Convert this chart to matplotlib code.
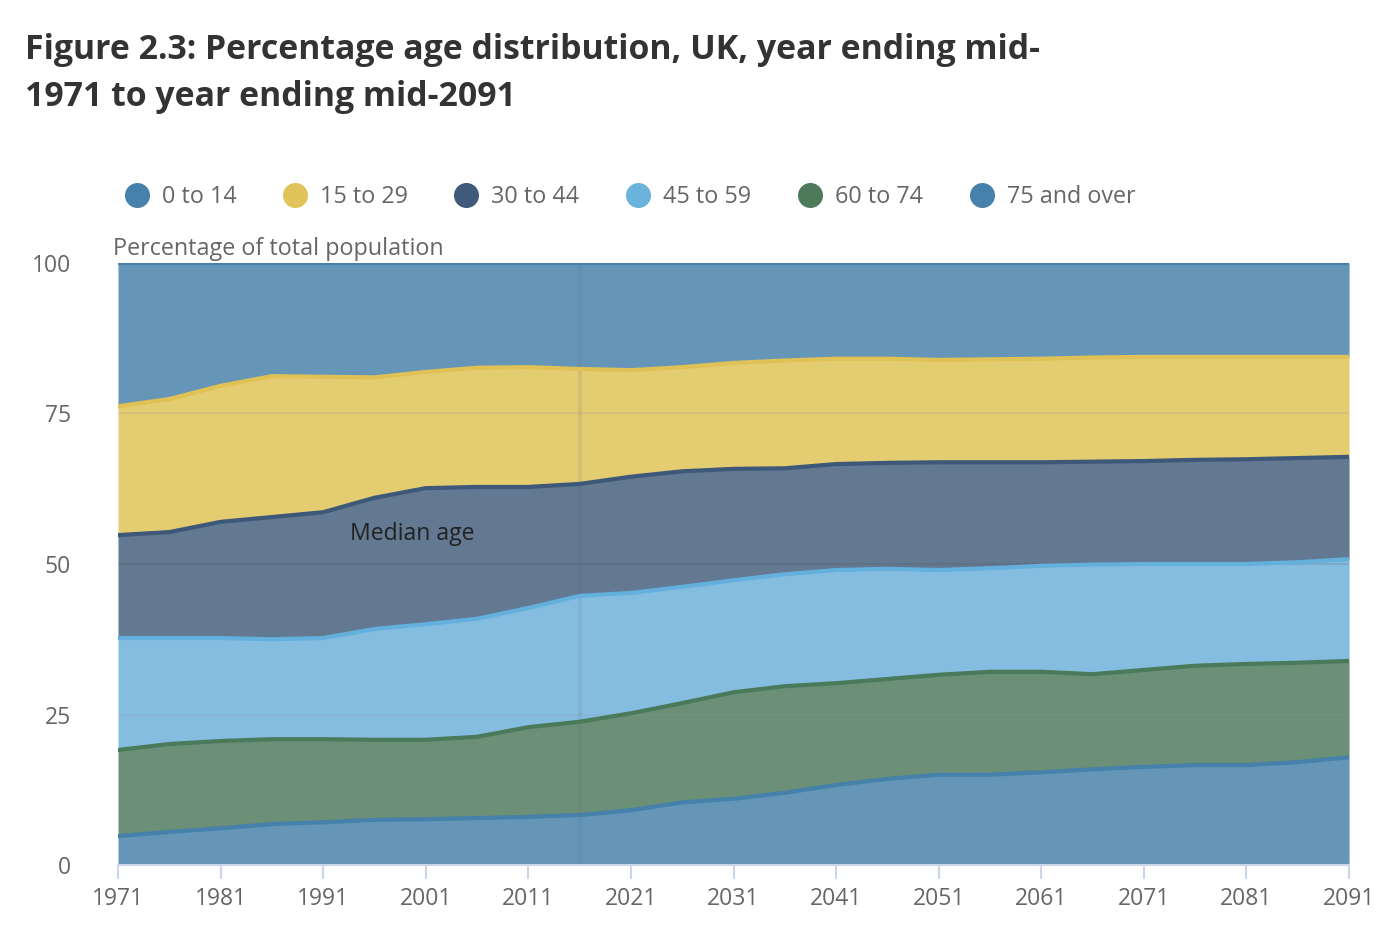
import numpy as np
import matplotlib.pyplot as plt
from matplotlib.lines import Line2D

plt.rcParams["font.family"] = ["Open Sans", "DejaVu Sans"]

years = [1971, 1976, 1981, 1986, 1991, 1996, 2001, 2006, 2011, 2016, 2021, 2026, 2031,
         2036, 2041, 2046, 2051, 2056, 2061, 2066, 2071, 2076, 2081, 2086, 2091]

# share of total population (%) by age group
age_75_over = [4.8, 5.5, 6.1, 6.8, 7.1, 7.5, 7.6, 7.8, 8.0, 8.3, 9.1, 10.4, 11.0,
               12.0, 13.3, 14.3, 15.0, 15.0, 15.4, 15.9, 16.3, 16.6, 16.6, 17.1, 17.9]
age_60_74 = [14.3, 14.6, 14.5, 14.1, 13.8, 13.3, 13.2, 13.5, 14.9, 15.5, 16.1, 16.5, 17.7,
             17.7, 16.9, 16.6, 16.6, 17.1, 16.7, 15.8, 16.1, 16.5, 16.8, 16.5, 16.0]
age_45_59 = [18.6, 17.6, 17.1, 16.6, 16.8, 18.4, 19.2, 19.6, 19.8, 20.9, 20.0, 19.3, 18.6,
             18.6, 18.8, 18.3, 17.4, 17.2, 17.6, 18.2, 17.6, 16.9, 16.6, 16.7, 16.9]
age_30_44 = [17.1, 17.6, 19.3, 20.3, 20.9, 21.8, 22.6, 21.9, 20.1, 18.6, 19.3, 19.2, 18.5,
             17.6, 17.6, 17.6, 17.9, 17.6, 17.2, 17.1, 17.1, 17.3, 17.4, 17.3, 17.0]
age_15_29 = [21.4, 22.1, 22.6, 23.4, 22.5, 20.0, 19.3, 19.8, 19.9, 19.1, 17.7, 17.3, 17.6,
             17.9, 17.5, 17.3, 17.0, 17.1, 17.2, 17.3, 17.3, 17.1, 17.0, 16.8, 16.6]
age_0_14 = [23.8, 22.6, 20.4, 18.8, 18.9, 19.0, 18.1, 17.4, 17.3, 17.6, 17.8, 17.3, 16.6,
            16.2, 15.9, 15.9, 16.1, 16.0, 15.9, 15.7, 15.6, 15.6, 15.6, 15.6, 15.6]

labels = ["0 to 14", "15 to 29", "30 to 44", "45 to 59", "60 to 74", "75 and over"]
series = [age_0_14, age_15_29, age_30_44, age_45_59, age_60_74, age_75_over]
line_cols = ["#4581ab", "#dfc155", "#3d5878", "#63b0dd", "#4a7a5a", "#4581ab"]
fill_cols = ["#6596b8", "#e4cc71", "#637891", "#85bde0", "#6b8f77", "#6596b8"]
dot_cols = ["#4581ab", "#e0c35a", "#3f5a7a", "#6ab3dc", "#4e7a5c", "#4581ab"]

fig = plt.figure(figsize=(13.98, 9.46), dpi=100)
ax = fig.add_axes([0.0844, 0.0856, 0.8806, 0.6364])

x = np.array(years)
# stack from 75 and over at the bottom up to 0 to 14 at the top
base = np.zeros(len(years))
for i in range(5, -1, -1):
    top = base + np.array(series[i])
    ax.fill_between(x, base, top, color=fill_cols[i], lw=0, zorder=1)
    base = top
base = np.zeros(len(years))
for i in range(5, -1, -1):
    top = base + np.array(series[i])
    ax.plot(x, top, color=line_cols[i], lw=3, solid_capstyle="round", zorder=3)
    base = top

for yv in [25, 50, 75, 100]:
    ax.axhline(yv, color="#999999" if yv != 50 else "#555555", alpha=0.18, lw=1.5, zorder=2)
ax.axvline(2016, color="#556677", alpha=0.12, lw=3, zorder=2)

ax.set_xlim(1971, 2091)
ax.set_ylim(0, 100)
ax.set_xticks(range(1971, 2092, 10))
ax.set_yticks([0, 25, 50, 75, 100])
ax.tick_params(axis="x", colors="#ccd6eb", length=10, width=1.5, labelsize=16.5, labelcolor="#666666", pad=6)
ax.tick_params(axis="y", length=0, labelsize=16.5, labelcolor="#666666", pad=34)
for s in ["top", "right", "left"]:
    ax.spines[s].set_visible(False)
ax.spines["bottom"].set_color("#ccd6eb")
ax.spines["bottom"].set_linewidth(1.5)
ax.spines["bottom"].set_zorder(4)

ax.text(1993.6, 55, "Median age", fontsize=16.6, color="#222222", va="center", ha="left", zorder=5)

fig.text(113 / 1398, 1 - 249 / 946, "Percentage of total population", fontsize=16.8,
         color="#666666", va="center", ha="left")

fig.text(25 / 1398, 1 - 33 / 946, "Figure 2.3: Percentage age distribution, UK, year ending mid-\n1971 to year ending mid-2091",
         fontsize=24.4, fontweight="bold", color="#333333", va="top", ha="left", linespacing=1.5)

# legend
leg_x = [137, 295, 466, 638, 810, 982]
for i, lab in enumerate(labels):
    fig.add_artist(Line2D([leg_x[i] / 1398], [1 - 195 / 946], marker="o", markersize=17,
                          color=dot_cols[i], linestyle="none", transform=fig.transFigure))
    fig.text((leg_x[i] + 25) / 1398, 1 - 197 / 946, lab, fontsize=16.8, color="#666666",
             va="center", ha="left")

fig.savefig("out.png", dpi=100)
